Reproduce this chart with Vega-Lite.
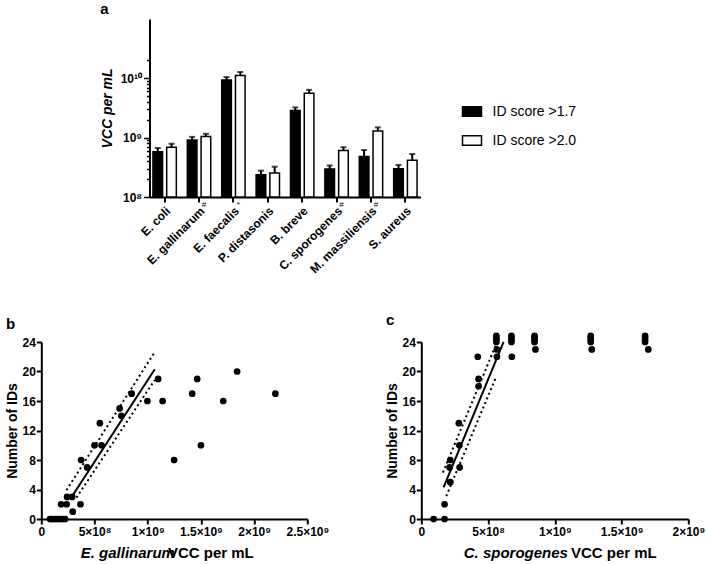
{
  "$schema": "https://vega.github.io/schema/vega-lite/v6.json",
  "background": "white",
  "padding": {"left": 5, "top": 2, "right": 0, "bottom": 5},
  "config": {
    "font": "Liberation Sans",
    "view": {"stroke": null},
    "axis": {
      "domainColor": "black", "domainWidth": 2, "tickColor": "black", "tickWidth": 2, "tickSize": 5,
      "labelColor": "black", "labelFont": "Liberation Sans", "labelFontWeight": "bold", "labelFontSize": 12,
      "titleColor": "black", "titleFont": "Liberation Sans", "titleFontWeight": "bold", "titleFontSize": 14,
      "grid": false, "labelOverlap": false, "labelFlush": false
    },
    "legend": {"padding": 20},
    "title": {"anchor": "start", "frame": "bounds", "fontSize": 15, "fontWeight": "bold", "color": "black", "font": "Liberation Sans"}
  },
  "resolve": {"legend": {"fill": "independent", "strokeDash": "independent"}},
  "center": true,
  "spacing": 37,
  "vconcat": [
    {
      "title": {"text": "a", "offset": 2},
      "width": 271,
      "height": 178,
      "layer": [
        {
          "data": {"name": "bars", "values": [
            {"species": "E. coli", "score": "ID score >1.7", "value": 5.8e8, "err": 6.7e8, "base": 1e8},
            {"species": "E. coli", "score": "ID score >2.0", "value": 6.9e8, "err": 7.9e8, "base": 1e8},
            {"species": "E. gallinarum", "score": "ID score >1.7", "value": 9.1e8, "err": 1.03e9, "base": 1e8},
            {"species": "E. gallinarum", "score": "ID score >2.0", "value": 1.05e9, "err": 1.16e9, "base": 1e8},
            {"species": "E. faecalis", "score": "ID score >1.7", "value": 9.4e9, "err": 1.05e10, "base": 1e8},
            {"species": "E. faecalis", "score": "ID score >2.0", "value": 1.12e10, "err": 1.28e10, "base": 1e8},
            {"species": "P. distasonis", "score": "ID score >1.7", "value": 2.36e8, "err": 2.78e8, "base": 1e8},
            {"species": "P. distasonis", "score": "ID score >2.0", "value": 2.55e8, "err": 3.24e8, "base": 1e8},
            {"species": "B. breve", "score": "ID score >1.7", "value": 2.88e9, "err": 3.24e9, "base": 1e8},
            {"species": "B. breve", "score": "ID score >2.0", "value": 5.6e9, "err": 6.4e9, "base": 1e8},
            {"species": "C. sporogenes", "score": "ID score >1.7", "value": 2.97e8, "err": 3.4e8, "base": 1e8},
            {"species": "C. sporogenes", "score": "ID score >2.0", "value": 6.1e8, "err": 6.9e8, "base": 1e8},
            {"species": "M. massiliensis", "score": "ID score >1.7", "value": 4.8e8, "err": 6.2e8, "base": 1e8},
            {"species": "M. massiliensis", "score": "ID score >2.0", "value": 1.3e9, "err": 1.49e9, "base": 1e8},
            {"species": "S. aureus", "score": "ID score >1.7", "value": 3.0e8, "err": 3.47e8, "base": 1e8},
            {"species": "S. aureus", "score": "ID score >2.0", "value": 4.16e8, "err": 5.3e8, "base": 1e8}
          ]},
          "layer": [
            {
              "mark": {"type": "bar", "stroke": "black", "strokeWidth": 1.5},
              "encoding": {
                "x": {"field": "species", "type": "nominal", "sort": null,
                  "scale": {"paddingInner": 0.32, "paddingOuter": 0.1},
                  "axis": {"title": null, "labelAngle": -45, "labelPadding": 3}},
                "xOffset": {"field": "score", "type": "nominal", "scale": {"paddingInner": 0.3, "paddingOuter": 0}},
                "y": {"field": "value", "type": "quantitative",
                  "scale": {"type": "log", "domain": [1e8, 2e10]},
                  "axis": {
                    "title": "VCC per mL", "titleFontStyle": "italic", "titlePadding": 6,
                    "values": [1e8, 2e8, 3e8, 4e8, 5e8, 6e8, 7e8, 8e8, 9e8, 1e9, 2e9, 3e9, 4e9, 5e9, 6e9, 7e9, 8e9, 9e9, 1e10, 2e10],
                    "labelExpr": "abs(datum.value/1e8-1)<1e-6 ? '10⁸' : abs(datum.value/1e9-1)<1e-6 ? '10⁹' : abs(datum.value/1e10-1)<1e-6 ? '10¹⁰' : ''",
                    "tickSize": {"condition": {"test": "abs(datum.value/1e8-1)<1e-6 || abs(datum.value/1e9-1)<1e-6 || abs(datum.value/1e10-1)<1e-6", "value": 6}, "value": 3},
                    "tickWidth": 1.5
                  }},
                "y2": {"field": "base"},
                "fill": {"field": "score", "type": "nominal",
                  "scale": {"domain": ["ID score >1.7", "ID score >2.0"], "range": ["black", "white"]},
                  "legend": {"title": null, "orient": "none", "legendX": 292, "legendY": 62,
                    "symbolType": "M-1,-0.5H1V0.5H-1Z", "symbolSize": 361, "symbolStrokeColor": "black", "symbolStrokeWidth": 1.5,
                    "labelFontSize": 14, "labelFont": "Liberation Sans", "labelColor": "black", "labelOffset": 10, "rowPadding": 10}}
              }
            },
            {
              "mark": {"type": "rule", "color": "black", "strokeWidth": 2},
              "encoding": {
                "x": {"field": "species", "type": "nominal", "sort": null},
                "xOffset": {"field": "score", "type": "nominal"},
                "y": {"field": "value", "type": "quantitative"},
                "y2": {"field": "err"}
              }
            },
            {
              "mark": {"type": "tick", "color": "black", "thickness": 2, "size": 6, "orient": "horizontal"},
              "encoding": {
                "x": {"field": "species", "type": "nominal", "sort": null},
                "xOffset": {"field": "score", "type": "nominal"},
                "y": {"field": "err", "type": "quantitative"}
              }
            }
          ]
        },
        {
          "data": {"values": [
            {"species": "E. gallinarum", "sig": "#", "base": 1e8},
            {"species": "E. faecalis", "sig": "*", "base": 1e8},
            {"species": "C. sporogenes", "sig": "#", "base": 1e8},
            {"species": "M. massiliensis", "sig": "#", "base": 1e8}
          ]},
          "mark": {"type": "text", "dx": 5, "dy": 8, "fontSize": 8, "color": "black", "font": "Liberation Sans"},
          "encoding": {
            "x": {"field": "species", "type": "nominal", "sort": null},
            "y": {"field": "base", "type": "quantitative"},
            "text": {"field": "sig"}
          }
        }
      ]
    },
    {
      "spacing": 56,
      "hconcat": [
        {
          "title": {"text": "b", "offset": 4},
          "width": 266,
          "height": 177,
          "resolve": {"axis": {"x": "independent"}},
          "layer": [
            {
              "data": {"values": [
                {"vcc": 0.082e9, "ids": 0}, {"vcc": 0.1e9, "ids": 0}, {"vcc": 0.12e9, "ids": 0}, {"vcc": 0.14e9, "ids": 0},
                {"vcc": 0.16e9, "ids": 0}, {"vcc": 0.18e9, "ids": 0}, {"vcc": 0.2e9, "ids": 0}, {"vcc": 0.224e9, "ids": 0},
                {"vcc": 0.186e9, "ids": 2}, {"vcc": 0.238e9, "ids": 2}, {"vcc": 0.242e9, "ids": 3}, {"vcc": 0.29e9, "ids": 3},
                {"vcc": 0.295e9, "ids": 1}, {"vcc": 0.368e9, "ids": 2}, {"vcc": 0.374e9, "ids": 8}, {"vcc": 0.431e9, "ids": 7},
                {"vcc": 0.5e9, "ids": 10}, {"vcc": 0.55e9, "ids": 13}, {"vcc": 0.566e9, "ids": 10}, {"vcc": 0.736e9, "ids": 15},
                {"vcc": 0.752e9, "ids": 14}, {"vcc": 0.849e9, "ids": 17}, {"vcc": 0.997e9, "ids": 16}, {"vcc": 1.098e9, "ids": 19},
                {"vcc": 1.14e9, "ids": 16}, {"vcc": 1.248e9, "ids": 8}, {"vcc": 1.418e9, "ids": 17}, {"vcc": 1.465e9, "ids": 19},
                {"vcc": 1.5e9, "ids": 10}, {"vcc": 1.71e9, "ids": 16}, {"vcc": 1.84e9, "ids": 20}, {"vcc": 2.2e9, "ids": 17}
              ]},
              "mark": {"type": "point", "filled": true, "color": "black", "opacity": 1, "size": 45, "clip": false},
              "encoding": {
                "x": {"field": "vcc", "type": "quantitative", "scale": {"domain": [0, 2.5e9], "nice": false},
                  "axis": {"values": [0, 5e8, 1e9, 1.5e9, 2e9, 2.5e9],
                    "labelExpr": "datum.value==0 ? '0' : datum.value==5e8 ? '5×10⁸' : datum.value==1e9 ? '1×10⁹' : datum.value==1.5e9 ? '1.5×10⁹' : datum.value==2e9 ? '2×10⁹' : '2.5×10⁹'",
                    "title": "VCC per mL", "titleFontSize": 15, "titleAlign": "center", "titleBaseline": "alphabetic", "titleX": 169, "titleY": 38, "titleAngle": 0}},
                "y": {"field": "ids", "type": "quantitative", "scale": {"domain": [0, 24], "nice": false},
                  "axis": {"values": [0, 4, 8, 12, 16, 20, 24], "title": "Number of IDs", "titlePadding": 2, "labelPadding": 1}}
              }
            },
            {
              "data": {"values": [
                {"vcc": 0.29e9, "ids": 3.1, "band": "fit", "kind": "fit"},
                {"vcc": 1.066e9, "ids": 20.3, "band": "fit", "kind": "fit"},
                {"vcc": 0.236e9, "ids": 3.9, "band": "upper", "kind": "ci"},
                {"vcc": 1.06e9, "ids": 22.5, "band": "upper", "kind": "ci"},
                {"vcc": 0.33e9, "ids": 2.9, "band": "lower", "kind": "ci"},
                {"vcc": 1.066e9, "ids": 18.85, "band": "lower", "kind": "ci"}
              ]},
              "mark": {"type": "line", "color": "black", "strokeWidth": 2, "clip": false},
              "encoding": {
                "x": {"field": "vcc", "type": "quantitative",
                  "axis": {"orient": "bottom", "domain": false, "ticks": false, "labels": false, "title": "E. gallinarum", "titleFontSize": 15,
                    "titleFontStyle": "italic", "titleAlign": "center", "titleBaseline": "alphabetic", "titleX": 86, "titleY": 38, "titleAngle": 0}},
                "y": {"field": "ids", "type": "quantitative",
                  "axis": {"values": [0, 4, 8, 12, 16, 20, 24], "title": "Number of IDs", "titlePadding": 2, "labelPadding": 1}},
                "detail": {"field": "band"},
                "strokeDash": {"field": "kind", "type": "nominal", "scale": {"domain": ["fit", "ci"], "range": [[1, 0], [2, 3]]}, "legend": null}
              }
            }
          ]
        },
        {
          "title": {"text": "c", "offset": 4},
          "width": 267,
          "height": 177,
          "resolve": {"axis": {"x": "independent"}},
          "layer": [
            {
              "data": {"values": [
                {"vcc": 0.092e9, "ids": 0}, {"vcc": 0.174e9, "ids": 0}, {"vcc": 0.174e9, "ids": 2}, {"vcc": 0.217e9, "ids": 5},
                {"vcc": 0.212e9, "ids": 7}, {"vcc": 0.217e9, "ids": 8}, {"vcc": 0.287e9, "ids": 7}, {"vcc": 0.285e9, "ids": 10},
                {"vcc": 0.281e9, "ids": 13}, {"vcc": 0.429e9, "ids": 18}, {"vcc": 0.429e9, "ids": 19}, {"vcc": 0.423e9, "ids": 22},
                {"vcc": 0.566e9, "ids": 22}, {"vcc": 0.566e9, "ids": 23}, {"vcc": 0.678e9, "ids": 22}, {"vcc": 0.855e9, "ids": 23},
                {"vcc": 1.277e9, "ids": 23}, {"vcc": 1.70e9, "ids": 23},
                {"vcc": 0.562e9, "ids": 24}, {"vcc": 0.562e9, "ids": 24.3}, {"vcc": 0.562e9, "ids": 24.6}, {"vcc": 0.562e9, "ids": 24.85},
                {"vcc": 0.675e9, "ids": 24}, {"vcc": 0.675e9, "ids": 24.3}, {"vcc": 0.675e9, "ids": 24.6}, {"vcc": 0.675e9, "ids": 24.85},
                {"vcc": 0.848e9, "ids": 24}, {"vcc": 0.848e9, "ids": 24.3}, {"vcc": 0.848e9, "ids": 24.6}, {"vcc": 0.848e9, "ids": 24.85},
                {"vcc": 1.269e9, "ids": 24}, {"vcc": 1.269e9, "ids": 24.3}, {"vcc": 1.269e9, "ids": 24.6}, {"vcc": 1.269e9, "ids": 24.85},
                {"vcc": 1.676e9, "ids": 24}, {"vcc": 1.676e9, "ids": 24.3}, {"vcc": 1.676e9, "ids": 24.6}, {"vcc": 1.676e9, "ids": 24.85}
              ]},
              "mark": {"type": "point", "filled": true, "color": "black", "opacity": 1, "size": 45, "clip": false},
              "encoding": {
                "x": {"field": "vcc", "type": "quantitative", "scale": {"domain": [0, 2e9], "nice": false},
                  "axis": {"values": [0, 5e8, 1e9, 1.5e9, 2e9],
                    "labelExpr": "datum.value==0 ? '0' : datum.value==5e8 ? '5×10⁸' : datum.value==1e9 ? '1×10⁹' : datum.value==1.5e9 ? '1.5×10⁹' : '2×10⁹'",
                    "title": "VCC per mL", "titleFontSize": 15, "titleAlign": "center", "titleBaseline": "alphabetic", "titleX": 192, "titleY": 38, "titleAngle": 0}},
                "y": {"field": "ids", "type": "quantitative", "scale": {"domain": [0, 24], "nice": false},
                  "axis": {"values": [0, 4, 8, 12, 16, 20, 24], "title": "Number of IDs", "titlePadding": 2, "labelPadding": 1}}
              }
            },
            {
              "data": {"values": [
                {"vcc": 0.167e9, "ids": 4.3, "band": "fit", "kind": "fit"},
                {"vcc": 0.616e9, "ids": 24.0, "band": "fit", "kind": "fit"},
                {"vcc": 0.162e9, "ids": 6.3, "band": "upper", "kind": "ci"},
                {"vcc": 0.556e9, "ids": 23.5, "band": "upper", "kind": "ci"},
                {"vcc": 0.187e9, "ids": 3.1, "band": "lower", "kind": "ci"},
                {"vcc": 0.561e9, "ids": 19.3, "band": "lower", "kind": "ci"}
              ]},
              "mark": {"type": "line", "color": "black", "strokeWidth": 2, "clip": false},
              "encoding": {
                "x": {"field": "vcc", "type": "quantitative",
                  "axis": {"orient": "bottom", "domain": false, "ticks": false, "labels": false, "title": "C. sporogenes", "titleFontSize": 15,
                    "titleFontStyle": "italic", "titleAlign": "center", "titleBaseline": "alphabetic", "titleX": 94, "titleY": 38, "titleAngle": 0}},
                "y": {"field": "ids", "type": "quantitative",
                  "axis": {"values": [0, 4, 8, 12, 16, 20, 24], "title": "Number of IDs", "titlePadding": 2, "labelPadding": 1}},
                "detail": {"field": "band"},
                "strokeDash": {"field": "kind", "type": "nominal", "scale": {"domain": ["fit", "ci"], "range": [[1, 0], [2, 3]]}, "legend": null}
              }
            }
          ]
        }
      ]
    }
  ]
}
